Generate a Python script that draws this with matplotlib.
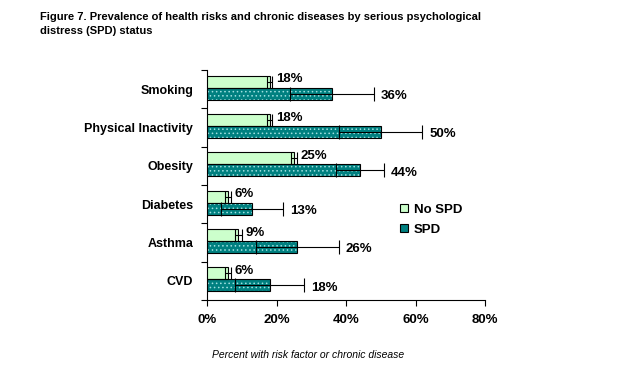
import matplotlib
matplotlib.use("Agg")
import matplotlib.pyplot as plt
import numpy as np
from matplotlib.patches import Patch

plt.rcParams['font.family'] = ['Liberation Sans', 'DejaVu Sans']
plt.rcParams['hatch.linewidth'] = 0.6

categories = ["Smoking", "Physical Inactivity", "Obesity", "Diabetes", "Asthma", "CVD"]
no_spd = [18, 18, 25, 6, 9, 6]
spd = [36, 50, 44, 13, 26, 18]
no_spd_err = [0.6, 0.7, 0.8, 0.8, 1.0, 0.8]
spd_err = [12, 12, 7, 9, 12, 10]
xticks = [0, 20, 40, 60, 80]

fig = plt.figure(figsize=(6.25, 3.72), dpi=100)
ax = fig.add_axes([207/625, 1-300/372, 278/625, 230/372])

n = len(categories)
y = np.arange(n)[::-1].astype(float)
h = 0.31
off = 0.04

light = "#ccffcc"
teal = "#008080"

# No SPD bars (upper)
ax.barh(y + h/2 + off, no_spd, height=h, color=light, edgecolor="black", linewidth=0.8, zorder=3)
# SPD bars (lower)
ax.barh(y - h/2 + off, spd, height=h, color=teal, edgecolor="#9fe0e0", linewidth=0, hatch="....", zorder=2)
ax.barh(y - h/2 + off, spd, height=h, fill=False, edgecolor="black", linewidth=0.8, zorder=3)

ax.errorbar(no_spd, y + h/2 + off, xerr=no_spd_err, fmt="none", ecolor="black", elinewidth=0.8, capsize=4.5, capthick=0.8, zorder=4)
ax.errorbar(spd, y - h/2 + off, xerr=spd_err, fmt="none", ecolor="black", elinewidth=0.8, capsize=5, capthick=0.8, zorder=4)

for yi, v, e in zip(y, no_spd, no_spd_err):
    ax.annotate(f"{v}%", (v + e, yi + h/2 + 0.1), xytext=(3, 0), textcoords="offset points",
                va="center", ha="left", fontsize=9.5, fontweight="bold")
for yi, v, e in zip(y, spd, spd_err):
    ax.annotate(f"{v}%", (v + e, yi - h/2 - 0.02), xytext=(5, 0), textcoords="offset points",
                va="center", ha="left", fontsize=9.5, fontweight="bold")

ax.set_xlim(0, 80)
ax.set_ylim(-0.5, n - 0.5)
ax.set_xticks(xticks)
ax.set_xticklabels([f"{t}%" for t in xticks], fontsize=9.5, fontweight="bold")
ax.set_yticks(y)
ax.set_yticklabels(categories, fontsize=9, fontweight="bold")
ax.set_yticks(np.arange(-0.5, n, 1.0), minor=True)
ax.tick_params(axis="y", which="major", length=0, pad=10)
ax.tick_params(axis="y", which="minor", length=4, width=0.8, direction="out")
ax.tick_params(axis="x", length=4, width=0.8, direction="out", pad=6)
for s in ["top", "right"]:
    ax.spines[s].set_visible(False)
for s in ["left", "bottom"]:
    ax.spines[s].set_linewidth(0.8)

handles = [Patch(facecolor=light, edgecolor="black", linewidth=0.8),
           Patch(facecolor=teal, edgecolor="black", linewidth=0.8)]
leg = fig.legend(handles, ["No SPD", "SPD"], loc="upper left", bbox_to_anchor=(388/625, 1-192/372),
                 frameon=False, prop={"weight": "bold", "size": 9.5}, handlelength=0.6, handleheight=0.6,
                 handletextpad=0.45, labelspacing=0.6)

fig.text(40/625, 1-12/372, "Figure 7. Prevalence of health risks and chronic diseases by serious psychological\ndistress (SPD) status",
         fontsize=8.0, fontweight="bold", va="top", ha="left", linespacing=1.45)
fig.text(308/625, 1-355/372, "Percent with risk factor or chronic disease", fontsize=7.5, style="italic",
         ha="center", va="center")

fig.savefig("out.png", dpi=100)
